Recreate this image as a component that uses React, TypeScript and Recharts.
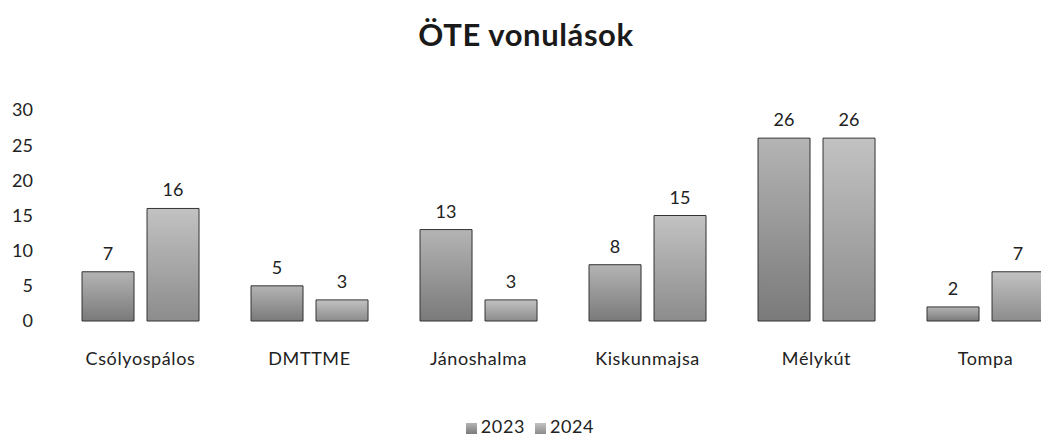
import React from "react";
import { BarChart, Bar, XAxis, YAxis, Legend, LabelList } from "recharts";

const telepulesek = ["Csólyospálos", "DMTTME", "Jánoshalma", "Kiskunmajsa", "Mélykút", "Tompa"];
const ev2023 = [7, 5, 13, 8, 26, 2];
const ev2024 = [16, 3, 3, 15, 26, 7];
const yTicks = [0, 5, 10, 15, 20, 25, 30];

const data = telepulesek.map((name, i) => ({
  name,
  "2023": ev2023[i],
  "2024": ev2024[i],
}));

const font = "Lato, 'Open Sans', sans-serif";

export default function App() {
  return (
    <div
      style={{
        position: "absolute",
        left: 0,
        top: 0,
        width: 1041,
        height: 437,
        overflow: "hidden",
        background: "#fff",
        fontFamily: font,
      }}
    >
      <div
        style={{
          position: "absolute",
          top: 15,
          left: 0,
          width: 1052,
          textAlign: "center",
          fontSize: 31,
          letterSpacing: 0.6,
          fontWeight: 700,
          color: "#1a1a1a",
        }}
      >
        ÖTE vonulások
      </div>
      <BarChart
        width={1070}
        height={437}
        data={data}
        margin={{ top: 110, right: 0, left: 0, bottom: 0 }}
        barCategoryGap="15.4%"
        barGap={13}
      >
        <defs>
          <linearGradient id="g2023" x1="0" y1="0" x2="0" y2="1">
            <stop offset="0%" stopColor="#b4b4b4" />
            <stop offset="100%" stopColor="#7a7a7a" />
          </linearGradient>
          <linearGradient id="g2024" x1="0" y1="0" x2="0" y2="1">
            <stop offset="0%" stopColor="#c2c2c2" />
            <stop offset="100%" stopColor="#8c8c8c" />
          </linearGradient>
        </defs>
        <XAxis
          dataKey="name"
          axisLine={false}
          tickLine={false}
          tickSize={0}
          tickMargin={31}
          height={94}
          tick={{ fill: "#222", fontSize: 18, fontFamily: font, letterSpacing: 0.6 }}
          interval={0}
        />
        <YAxis
          domain={[0, 30]}
          ticks={yTicks}
          axisLine={false}
          tickLine={false}
          tickSize={0}
          tickMargin={23}
          width={56}
          tick={{ fill: "#222", fontSize: 18, fontFamily: font }}
        />
        <Legend
          verticalAlign="bottom"
          iconType="square"
          iconSize={11}
          wrapperStyle={{ fontSize: 18, fontFamily: font, color: "#222", letterSpacing: 0.6 }}
          formatter={(v) => <span style={{ color: "#222" }}>{v}</span>}
        />
        <Bar dataKey="2023" fill="url(#g2023)" stroke="#333" strokeWidth={1} isAnimationActive={false}>
          <LabelList dataKey="2023" position="top" offset={12} fill="#222" fontSize={18} fontFamily={font} />
        </Bar>
        <Bar dataKey="2024" fill="url(#g2024)" stroke="#333" strokeWidth={1} isAnimationActive={false}>
          <LabelList dataKey="2024" position="top" offset={12} fill="#222" fontSize={18} fontFamily={font} />
        </Bar>
      </BarChart>
    </div>
  );
}
